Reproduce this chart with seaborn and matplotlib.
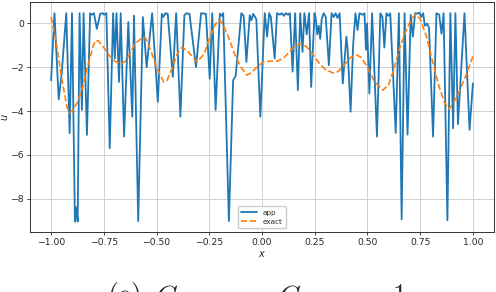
import matplotlib
matplotlib.use("Agg")
import matplotlib.pyplot as plt
import pandas as pd
import seaborn as sns

# approximate network output ("app")
app_x = [
    -1.000, -0.984, -0.964, -0.950, -0.928, -0.912, -0.901, -0.887, -0.881, -0.874,
    -0.865, -0.854, -0.846, -0.830, -0.815, -0.807, -0.797, -0.783, -0.767, -0.755,
    -0.748, -0.738, -0.722, -0.706, -0.698, -0.690, -0.678, -0.670, -0.654, -0.634,
    -0.615, -0.607, -0.587, -0.565, -0.547, -0.521, -0.494, -0.475, -0.467, -0.458,
    -0.447, -0.423, -0.407, -0.387, -0.368, -0.358, -0.344, -0.313, -0.289, -0.266,
    -0.248, -0.236, -0.220, -0.200, -0.191, -0.184, -0.157, -0.137, -0.125, -0.098,
    -0.087, -0.074, -0.058, -0.050, -0.042, -0.027, -0.008, 0.013, 0.024, 0.034,
    0.042, 0.060, 0.071, 0.085, 0.094, 0.104, 0.113, 0.123, 0.132, 0.145,
    0.157, 0.170, 0.181, 0.192, 0.201, 0.212, 0.223, 0.233, 0.249, 0.255,
    0.262, 0.269, 0.276, 0.283, 0.292, 0.302, 0.317, 0.330, 0.340, 0.349,
    0.358, 0.368, 0.383, 0.400, 0.406, 0.420, 0.432, 0.443, 0.453, 0.462,
    0.478, 0.486, 0.493, 0.498, 0.509, 0.522, 0.545, 0.561, 0.571, 0.580,
    0.590, 0.599, 0.608, 0.634, 0.649, 0.662, 0.676, 0.690, 0.705, 0.715,
    0.726, 0.736, 0.745, 0.755, 0.764, 0.772, 0.783, 0.792, 0.811, 0.827,
    0.840, 0.851, 0.861, 0.879, 0.893, 0.906, 0.917, 0.929, 0.960, 0.984,
    1.000,
]
app_u = [
    -2.60, 0.47, -3.47, -2.30, 0.47, -5.01, 0.47, -9.05, -8.40, -9.05,
    0.47, -3.95, 0.47, -5.09, 0.47, 0.40, 0.47, -0.25, 0.45, 0.47,
    0.40, 0.47, -5.70, 0.47, -1.61, 0.47, -2.67, 0.47, -5.17, 0.06,
    -4.26, 0.36, -9.03, 0.29, -2.00, 0.47, -3.58, 0.44, 0.30, 0.47,
    0.44, -2.44, 0.47, -4.26, 0.38, 0.47, 0.44, -1.99, 0.47, 0.44,
    -2.52, 0.47, -3.95, 0.45, 0.35, 0.47, -9.03, -2.59, -2.40, 0.47,
    0.35, -1.76, 0.38, 0.15, 0.44, 0.20, -4.26, 0.47, -0.60, 0.47,
    0.30, -1.60, 0.47, 0.40, 0.47, 0.35, 0.47, 0.40, 0.47, -2.20,
    0.47, -3.05, 0.47, -1.30, 0.47, -0.50, 0.47, -2.90, 0.47, 0.20,
    -0.50, -0.10, -0.70, 0.20, 0.47, 0.30, -1.91, 0.47, 0.30, 0.47,
    0.25, 0.47, -2.74, -0.60, -1.20, -4.03, -1.00, 0.47, -0.30, 0.47,
    0.40, 0.47, -1.20, 0.00, -3.20, 0.47, -5.17, 0.47, 0.30, -1.10,
    0.47, 0.35, 0.47, -5.00, 0.47, -8.95, 0.47, -5.08, 0.40, -0.60,
    0.47, 0.45, 0.50, 0.30, 0.47, -0.10, 0.00, -0.20, -5.17, 0.47,
    0.40, -0.47, 0.47, -9.00, 0.47, -4.79, 0.47, -4.60, 0.47, -4.86,
    -2.74,
]

# exact solution
exact_x = [
    -1.000, -0.975, -0.950, -0.925, -0.915, -0.900, -0.875, -0.850, -0.825, -0.800,
    -0.788, -0.775, -0.750, -0.725, -0.700, -0.670, -0.650, -0.625, -0.600, -0.563,
    -0.550, -0.525, -0.500, -0.466, -0.450, -0.425, -0.400, -0.379, -0.350, -0.308,
    -0.275, -0.250, -0.225, -0.206, -0.190, -0.160, -0.130, -0.100, -0.072, -0.050,
    -0.025, 0.006, 0.040, 0.069, 0.100, 0.130, 0.160, 0.187, 0.210, 0.240,
    0.270, 0.300, 0.336, 0.360, 0.390, 0.420, 0.447, 0.470, 0.500, 0.530,
    0.572, 0.600, 0.625, 0.650, 0.680, 0.710, 0.730, 0.750, 0.780, 0.810,
    0.840, 0.865, 0.887, 0.910, 0.940, 0.970, 1.000,
]
exact_u = [
    0.30, -0.90, -2.50, -3.80, -4.08, -4.00, -3.60, -2.90, -1.90, -1.00,
    -0.77, -0.80, -1.10, -1.45, -1.72, -1.83, -1.75, -1.35, -0.90, -0.62,
    -0.70, -1.30, -2.00, -2.67, -2.60, -2.00, -1.35, -1.08, -1.30, -1.76,
    -1.40, -0.70, -0.10, 0.17, 0.05, -0.60, -1.40, -2.00, -2.36, -2.25,
    -2.00, -1.76, -1.72, -1.73, -1.60, -1.30, -1.00, -0.93, -1.05, -1.40,
    -1.80, -2.10, -2.26, -2.20, -1.90, -1.55, -1.43, -1.55, -2.00, -2.60,
    -3.05, -2.80, -2.10, -1.20, -0.40, 0.25, 0.41, 0.20, -0.60, -1.80,
    -2.90, -3.60, -3.91, -3.60, -3.00, -2.30, -1.50,
]

sns.set_style("ticks")
plt.rcParams["font.family"] = ["DejaVu Sans"]
plt.rcParams["mathtext.fontset"] = "dejavusans"

fig = plt.figure(figsize=(4.96, 2.92), dpi=100)
ax = fig.add_axes([0.0605, 0.2055, 0.9355, 0.7875])

app = pd.DataFrame({"x": app_x, "u": app_u})
exact = pd.DataFrame({"x": exact_x, "u": exact_u})

sns.lineplot(data=app, x="x", y="u", ax=ax, color="#1f77b4", lw=1.3,
             label="app", estimator=None, sort=False)
sns.lineplot(data=exact, x="x", y="u", ax=ax, color="#ff7f0e", lw=1.2,
             ls="--", label="exact", estimator=None, sort=False)

ax.set_xlim(-1.1, 1.1)
ax.set_ylim(-9.53, 0.98)
ax.set_xticks([-1.0, -0.75, -0.5, -0.25, 0.0, 0.25, 0.5, 0.75, 1.0])
ax.set_xticklabels([f"{t:.2f}".replace("-", "\u2212") for t in ax.get_xticks()])
ax.set_yticks([0, -2, -4, -6, -8])
ax.grid(True, color="#d0d0d0", lw=0.7)
ax.tick_params(labelsize=6.7, length=2.5, width=0.6, pad=2)
for s in ax.spines.values():
    s.set_linewidth(0.7)
    s.set_color("#333333")
ax.set_xlabel("$x$", fontsize=7, labelpad=1)
ax.set_ylabel("$u$", fontsize=7, labelpad=0)

ax.legend(loc="lower center", fontsize=5.2, handlelength=2.2,
          borderpad=0.5, labelspacing=0.4, framealpha=1)

# caption, mostly cut off by the bottom edge as in the reference
cap = dict(fontsize=20, va="baseline", ha="left", math_fontfamily="cm")
fig.text(0.215, -0.042, r"$\mathrm{(c)}$", **cap)
fig.text(0.313, -0.042, "$C$", **cap)
fig.text(0.561, -0.042, "$C$", **cap)
fig.text(0.79, -0.042, "$1$", **cap)

fig.savefig("out.png", dpi=100)
